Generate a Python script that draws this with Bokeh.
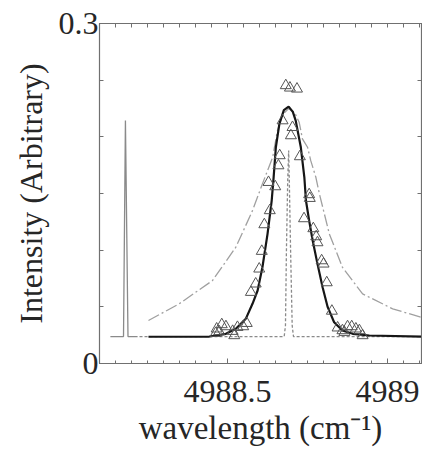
from bokeh.plotting import figure
from bokeh.models import Range1d, LinearAxis, FixedTicker, Title
from bokeh.embed import file_html
from bokeh.resources import INLINE

# ---- data ----
# measured points (triangles)
meas_x = [4988.682, 4988.695, 4988.717, 4988.672, 4988.703, 4988.698, 4988.663, 4988.659,
          4988.726, 4988.628, 4988.649, 4988.755, 4988.757, 4988.632, 4988.615, 4988.739,
          4988.768, 4988.777, 4988.781, 4988.607, 4988.599, 4988.794, 4988.800, 4988.810,
          4988.588, 4988.573, 4988.826, 4988.482, 4988.495, 4988.466, 4988.474, 4988.516,
          4988.531, 4988.549, 4988.560, 4988.521, 4988.463, 4988.844, 4988.865, 4988.875,
          4988.888, 4988.901, 4988.912, 4988.922, 4988.859]
meas_y = [0.2453, 0.2432, 0.2423, 0.2143, 0.2084, 0.2011, 0.1835, 0.1746,
          0.1826, 0.1599, 0.1561, 0.1491, 0.1458, 0.1350, 0.1226, 0.1279,
          0.1191, 0.1120, 0.1067, 0.0991, 0.0835, 0.0908, 0.0879, 0.0714,
          0.0703, 0.0629, 0.0463, 0.0344, 0.0326, 0.0306, 0.0282, 0.0285,
          0.0320, 0.0326, 0.0355, 0.0247, 0.0267, 0.0315, 0.0276, 0.0326,
          0.0326, 0.0306, 0.0291, 0.0247, 0.0291]

# fitted profile (solid black)
fit_x = [4988.253, 4988.391, 4988.443, 4988.495, 4988.526, 4988.557, 4988.578, 4988.594,
         4988.609, 4988.625, 4988.638, 4988.644, 4988.651, 4988.662, 4988.676, 4988.691,
         4988.704, 4988.713, 4988.729, 4988.740, 4988.745, 4988.755, 4988.766, 4988.781,
         4988.797, 4988.813, 4988.833, 4988.859, 4988.891, 4988.943, 4989.106]
fit_y = [0.0236, 0.0236, 0.0238, 0.0262, 0.0306, 0.0394, 0.0527, 0.0644,
         0.0849, 0.1144, 0.1438, 0.1643, 0.1908, 0.2114, 0.2235, 0.2267,
         0.2220, 0.2143, 0.1908, 0.1643, 0.1438, 0.1261, 0.1085, 0.0879,
         0.0673, 0.0497, 0.0364, 0.0291, 0.0262, 0.0247, 0.0238]

# broad profile (grey long dash)
broad_x = [4988.253, 4988.349, 4988.453, 4988.526, 4988.578, 4988.609, 4988.641, 4988.656,
           4988.672, 4988.691, 4988.710, 4988.724, 4988.734, 4988.750, 4988.760, 4988.776,
           4988.787, 4988.818, 4988.859, 4988.922, 4989.016, 4989.106]
broad_y = [0.0379, 0.0527, 0.0732, 0.1026, 0.1349, 0.1585, 0.1820, 0.2055,
           0.2196, 0.2249, 0.2214, 0.2126, 0.1982, 0.1908, 0.1790, 0.1643,
           0.1497, 0.1144, 0.0849, 0.0614, 0.0482, 0.0408]

# narrow instrument profile (grey dotted)
inst_x = [4988.225, 4988.677, 4988.681, 4988.684, 4988.688, 4988.691, 4988.693, 4988.697,
          4988.702, 4988.706, 4989.106]
inst_y = [0.0238, 0.0238, 0.0335, 0.0997, 0.1614, 0.1879, 0.1614, 0.0997,
          0.0335, 0.0238, 0.0238]

# reference line (grey spike)
ref_x = [4988.134, 4988.175, 4988.181, 4988.189, 4988.219]
ref_y = [0.0238, 0.0238, 0.2143, 0.0238, 0.0238]

x_ticks = [4988.5, 4989.0]
x_tick_labels = {4988.5: "4988.5", 4989.0: "4989"}
x_minor = [round(4988.1 + 0.05 * i, 2) for i in range(21)]
y_ticks = [0.0, 0.3]
y_tick_labels = {0.0: "0", 0.3: "0.3"}
y_minor = [0.0, 0.05, 0.1, 0.15, 0.2, 0.25, 0.3]
x_title = "wavelength (cm⁻¹)"
y_title = "Intensity (Arbitrary)"

FONT = "Liberation Serif"
AXC = "#707070"
TXT = "#262626"

p = figure(width=422, height=452, output_backend="svg", toolbar_location=None,
           x_range=Range1d(4988.1, 4989.106), y_range=Range1d(0, 0.3),
           min_border_left=99, min_border_right=1, min_border_top=23, min_border_bottom=89)
p.background_fill_color = "white"
p.border_fill_color = "white"
p.grid.visible = False
p.outline_line_color = AXC
p.outline_line_width = 1.2

# data glyphs
p.line(ref_x, ref_y, line_color="#8a8a8a", line_width=1.3)
p.line(inst_x, inst_y, line_color="#8a8a8a", line_width=1.3, line_dash="3 2")
p.line(broad_x, broad_y, line_color="#a0a0a0", line_width=1.3, line_dash="12 3 2 3")
p.line(fit_x, fit_y, line_color="#161616", line_width=2.2)
p.scatter(meas_x, meas_y, marker="triangle", size=11, fill_color=None,
          line_color="#555555", line_width=1)

def style_axis(ax):
    ax.axis_line_color = AXC
    ax.major_tick_line_color = AXC
    ax.minor_tick_line_color = AXC
    ax.major_tick_out = 0
    ax.minor_tick_out = 0
    ax.major_tick_in = 5
    ax.minor_tick_in = 3
    ax.major_label_text_font = FONT
    ax.major_label_text_color = TXT
    ax.axis_label_text_font = FONT
    ax.axis_label_text_font_style = "normal"
    ax.axis_label_text_color = TXT

# bottom
xa = p.xaxis[0]
xa.ticker = FixedTicker(ticks=x_ticks, minor_ticks=x_minor)
style_axis(xa)
xa.major_label_overrides = x_tick_labels
xa.major_label_text_font_size = "32px"
xa.major_label_standoff = 17

# x title below the axis, shifted right like the original
p.add_layout(Title(text=x_title, align="center", offset=18, standoff=6,
                   text_font=FONT, text_font_size="33px", text_font_style="normal",
                   text_color=TXT), "below")

# left
ya = p.yaxis[0]
ya.ticker = FixedTicker(ticks=y_ticks, minor_ticks=y_minor)
style_axis(ya)
ya.minor_tick_in = 4
ya.major_tick_in = 4
ya.major_label_overrides = y_tick_labels
ya.major_label_text_font_size = "32px"
ya.major_label_standoff = 1
ya.axis_label = y_title
ya.axis_label_text_font_size = "32px"
ya.axis_label_standoff = 7

# top and right (ticks only, no labels)
top = LinearAxis(ticker=FixedTicker(ticks=[], minor_ticks=x_minor))
style_axis(top)
top.minor_tick_in = 4
p.add_layout(top, "above")
right = LinearAxis(ticker=FixedTicker(ticks=[], minor_ticks=y_minor))
style_axis(right)
right.minor_tick_in = 4
p.add_layout(right, "right")

open("out.html", "w").write(file_html(p, INLINE))
